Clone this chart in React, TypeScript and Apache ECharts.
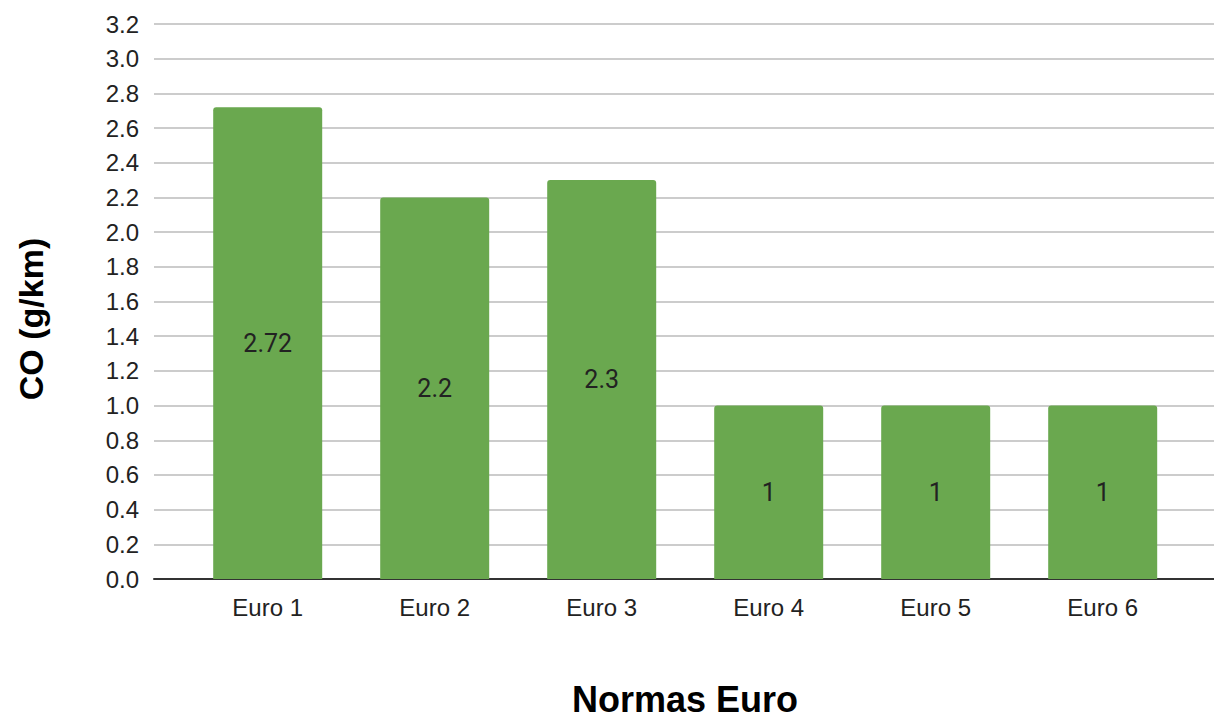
import React, { useEffect, useRef } from "react";
import * as echarts from "echarts";

const categories = ["Euro 1", "Euro 2", "Euro 3", "Euro 4", "Euro 5", "Euro 6"];
const coValues = [2.72, 2.2, 2.3, 1, 1, 1];
const yMin = 0;
const yMax = 3.2;
const yStep = 0.2;
const xTitle = "Normas Euro";
const yTitle = "CO (g/km)";

export default function App() {
  const ref = useRef<HTMLDivElement>(null);
  useEffect(() => {
    if (!ref.current) return;
    const chart = echarts.init(ref.current, undefined, { renderer: "svg" });
    const font = "Arial, 'Liberation Sans', sans-serif";
    chart.setOption({
      animation: false,
      backgroundColor: "#ffffff",
      grid: [
        { left: 154, right: 0, top: 24, bottom: 140 },
        { left: 184.2, right: 27.8, top: 24, bottom: 140 },
      ],
      xAxis: [
        {
          type: "value",
          gridIndex: 0,
          min: 0,
          max: 1,
          axisLine: { show: true, onZero: false, lineStyle: { color: "#333333", width: 2 } },
          axisTick: { show: false },
          axisLabel: { show: false },
          splitLine: { show: false },
        },
        {
          type: "category",
          gridIndex: 1,
          data: categories,
          axisLine: { show: false },
          axisTick: { show: false },
          axisLabel: { color: "#222222", fontSize: 24, fontFamily: font, margin: 16 },
        },
      ],
      yAxis: [
        {
          type: "value",
          gridIndex: 0,
          min: yMin,
          max: yMax,
          interval: yStep,
          axisLine: { show: false },
          axisTick: { show: false },
          axisLabel: {
            color: "#222222",
            fontSize: 24,
            fontFamily: font,
            margin: 15,
            formatter: (v: number) => v.toFixed(1),
          },
          splitLine: { show: true, lineStyle: { color: "#cccccc", width: 2 } },
        },
        {
          type: "value",
          gridIndex: 1,
          min: yMin,
          max: yMax,
          interval: yStep,
          show: false,
          splitLine: { show: false },
        },
      ],
      series: [
        {
          type: "bar",
          xAxisIndex: 1,
          yAxisIndex: 1,
          data: coValues,
          barWidth: 109,
          itemStyle: { color: "#6aa84f", borderRadius: [3, 3, 0, 0] },
          label: {
            show: true,
            position: "inside",
            color: "#222222",
            fontSize: 25,
            fontFamily: "Roboto, Arial, sans-serif",
            formatter: (p: any) => String(p.value),
          },
        },
      ],
      graphic: [
        {
          type: "text",
          x: 685,
          y: 699,
          style: {
            text: xTitle,
            fill: "#000000",
            font: `bold 36px ${font}`,
            align: "center",
            verticalAlign: "middle",
          },
        },
        {
          type: "text",
          x: 31,
          y: 319,
          rotation: Math.PI / 2,
          style: {
            text: yTitle,
            fill: "#000000",
            font: `bold 34px ${font}`,
            align: "center",
            verticalAlign: "middle",
          },
        },
      ],
    });
    return () => chart.dispose();
  }, []);
  return (
    <div
      ref={ref}
      style={{ position: "fixed", left: 0, top: 0, width: 1214, height: 719 }}
    />
  );
}
